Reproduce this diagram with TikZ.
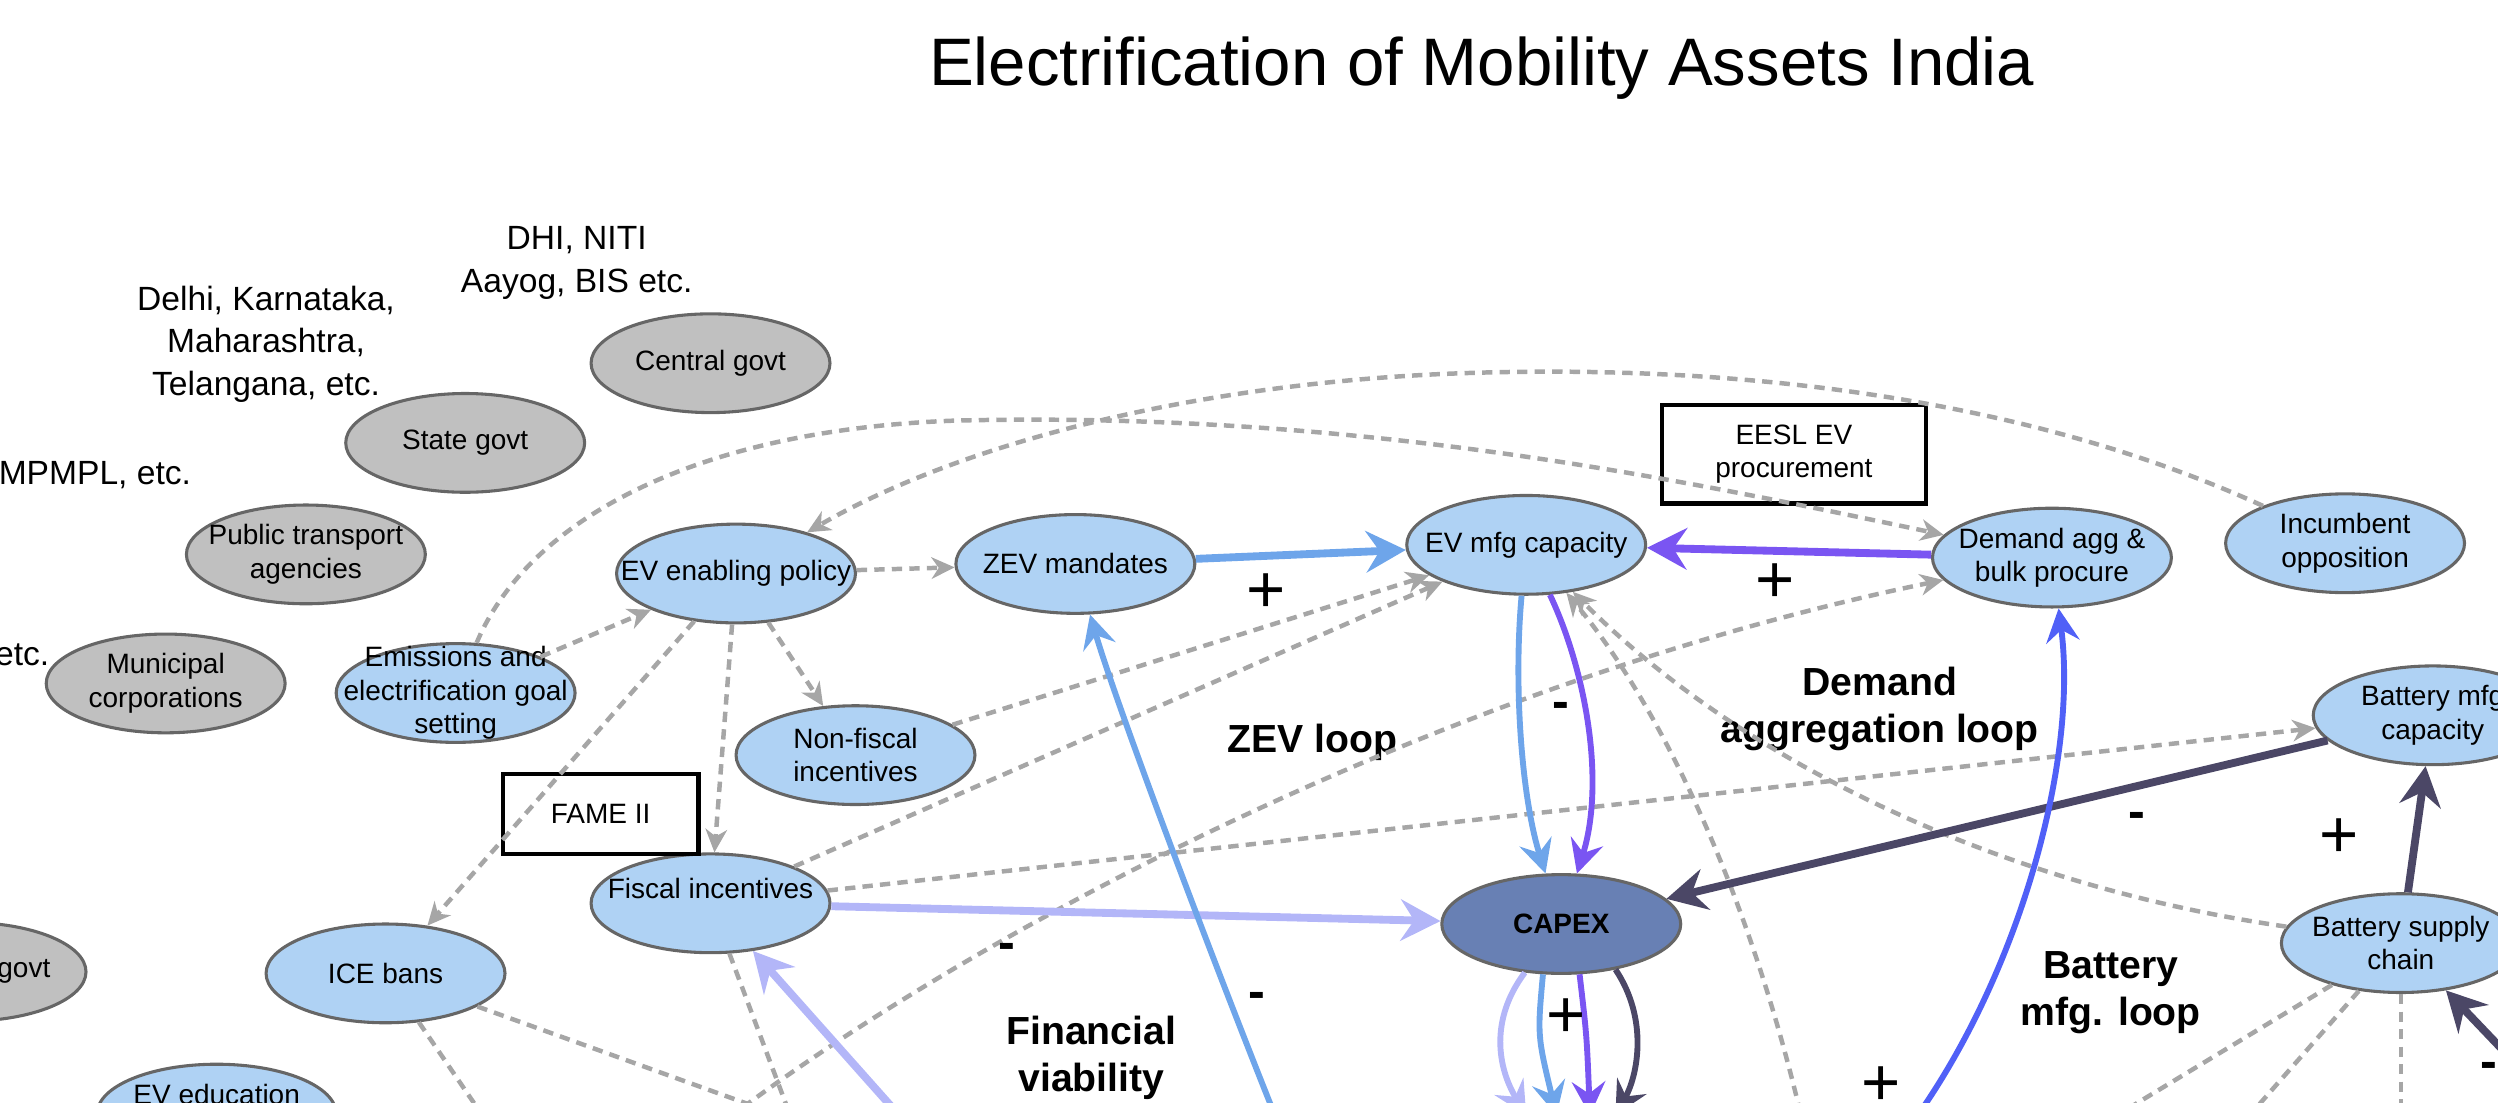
\documentclass[tikz,border=0pt]{standalone}
\usepackage{fontspec}
\setmainfont{Liberation Sans}
\usetikzlibrary{shapes.geometric, arrows.meta}

\definecolor{govgrey}{HTML}{C0C0C0}
\definecolor{factorblue}{HTML}{AFD2F4}
\definecolor{capexblue}{HTML}{6880B4}
\definecolor{edgegrey}{HTML}{666666}
\definecolor{zevblue}{HTML}{6EA5EA}
\definecolor{aggpurple}{HTML}{7A55F2}
\definecolor{batblue}{HTML}{5060F7}
\definecolor{finlav}{HTML}{B3B6F8}
\definecolor{batdark}{HTML}{4B4766}
\definecolor{dashgrey}{HTML}{A6A6A6}

\tikzstyle{actor} = [ellipse, draw=edgegrey, line width=1.1pt, fill=govgrey, minimum width=3cm, minimum height=1.24cm, inner sep=0pt]
\tikzstyle{factor} = [actor, fill=factorblue]
\tikzstyle{hub} = [actor, fill=capexblue]
\tikzstyle{program} = [rectangle, draw=black, line width=1.5pt, inner sep=0pt, font=\fontsize{10}{12}\selectfont, align=center]
\tikzstyle{nodetext} = [font=\fontsize{10}{12}\selectfont, align=center]
\tikzstyle{note} = [font=\fontsize{12}{15.2}\selectfont, align=center]
\tikzstyle{looplabel} = [font=\fontsize{14}{17}\selectfont\bfseries, align=center]
\tikzstyle{signplus} = [font=\fontsize{24}{24}\selectfont]
\tikzstyle{signminus} = [font=\fontsize{18}{18}\selectfont\bfseries]
\tikzstyle{influence} = [draw=dashgrey, line width=1.6pt, dash pattern=on 0.13cm off 0.09cm, -{Stealth[length=0.29cm, width=0.27cm, inset=0.09cm]}]
\tikzstyle{flow} = [line width=2.8pt, -{Stealth[length=0.5cm, width=0.52cm, inset=0.17cm]}]
\tikzstyle{thinflow} = [line width=2.1pt, -{Stealth[length=0.42cm, width=0.42cm, inset=0.15cm]}]

\begin{document}
\begin{tikzpicture}[x=0.02cm, y=-0.02cm]
\useasboundingbox (0,0) rectangle (1568,692);
\clip (0,0) rectangle (1568,692);

\node (title) [font=\fontsize{24}{28}\selectfont] at (930,43) {Electrification of Mobility Assets India};

% actors
\node (central) [actor, label={[nodetext]center:Central govt}] at (446,228) {};
\node (state) [actor, label={[nodetext]center:State govt}] at (292,278) {};
\node (pta) [actor, label={[nodetext]center:Public transport\\agencies}] at (192,348) {};
\node (muni) [actor, label={[nodetext]center:Municipal\\corporations}] at (104,429) {};
\node (localgovt) [actor, label={[nodetext, xshift=0.72cm]center:govt}] at (-21,610) {};

\node (dhi) [note] at (362,165) {DHI, NITI\\Aayog, BIS etc.};
\node (states) [note] at (167,216) {Delhi, Karnataka,\\Maharashtra,\\Telangana, etc.};
\node (mpmpl) [note, anchor=east, inner xsep=1pt] at (122,298) {MPMPL, etc.};
\node (munietc) [note, anchor=east, inner xsep=1pt] at (33,411) {etc.};

% factors
\node (evpolicy) [factor, label={[nodetext]center:EV enabling policy}] at (462,360) {};
\node (emissions) [factor, label={[nodetext]center:Emissions and\\electrification goal\\setting}] at (286,435) {};
\node (zev) [factor, label={[nodetext]center:ZEV mandates}] at (675,354) {};
\node (evmfg) [factor, label={[nodetext]center:EV mfg capacity}] at (958,342) {};
\node (demandagg) [factor, label={[nodetext]center:Demand agg \&\\bulk procure}] at (1288,350) {};
\node (incumbent) [factor, label={[nodetext]center:Incumbent\\opposition}] at (1472,341) {};
\node (batmfg) [factor, label={[nodetext]center:Battery mfg\\capacity}] at (1527,449) {};
\node (batsupply) [factor, label={[nodetext]center:Battery supply\\chain}] at (1507,592) {};
\node (nonfiscal) [factor, label={[nodetext]center:Non-fiscal\\incentives}] at (537,474) {};
\node (fiscal) [factor, label={[nodetext, yshift=0.18cm]center:Fiscal incentives}] at (446,567) {};
\node (icebans) [factor, label={[nodetext]center:ICE bans}] at (242,611) {};
\node (evedu) [factor, label={[nodetext, yshift=0.24cm]center:EV education}] at (136,699) {};
\node (capex) [hub, label={[nodetext, font=\fontsize{10}{12}\selectfont\bfseries]center:CAPEX}] at (980,580) {};

\node (fame) [program, minimum width=2.46cm, minimum height=1cm] at (377,511) {FAME II};
\node (eesl) [program, minimum width=3.32cm, minimum height=1.24cm] at (1126,285) {EESL EV\\procurement};

% loop names
\node (zevloop) [looplabel] at (824,466) {ZEV loop};
\node (aggloop) [looplabel] at (1180,445) {Demand\\aggregation loop};
\node (finloop) [looplabel] at (685,664) {Financial\\viability};
\node (batloop) [looplabel] at (1325,623) {Battery\\mfg. loop};

% off-picture ends
\coordinate (srcdemand) at (440,715);
\coordinate (srcevmfg) at (1135,720);
\coordinate (srczev) at (805,712);
\coordinate (srcdemandagg) at (1195,712);
\coordinate (srcfiscal) at (575,712);
\coordinate (srcbatsupply) at (1610,700);
\coordinate (icedownA) at (330,740);
\coordinate (icedownB) at (600,740);
\coordinate (fiscaldown) at (511,740);
\coordinate (batdownA) at (1263,740);
\coordinate (batdownB) at (1377,740);
\coordinate (batdownC) at (1507,740);
\coordinate (outA) at (958,700);
\coordinate (outB) at (977,700);
\coordinate (outC) at (998,700);
\coordinate (outD) at (1014,700);

% dashed links
\draw [influence] (evpolicy) -- (zev);
\draw [influence] (emissions) -- (evpolicy);
\draw [influence] (evpolicy) -- (nonfiscal);
\draw [influence] (evpolicy) -- (fiscal);
\draw [influence] (evpolicy) -- (icebans);
\draw [influence] (emissions) .. controls (330,330) and (430,270) .. (600,264) .. controls (850,258) and (1050,300) .. (demandagg);
\draw [influence] (incumbent) .. controls (1250,240) and (1050,228) .. (900,235) .. controls (740,243) and (600,280) .. (evpolicy);
\draw [influence] (nonfiscal) -- (evmfg);
\draw [influence] (fiscal) -- (evmfg);
\draw [influence] (fiscal) -- (batmfg);
\draw [influence] (srcdemand) .. controls (600,590) and (900,430) .. (demandagg);
\draw [influence] (batsupply) .. controls (1250,555) and (1090,475) .. (evmfg);
\draw [influence] (srcevmfg) .. controls (1100,560) and (1040,440) .. (evmfg);
\draw [influence] (icebans) -- (icedownA);
\draw [influence] (icebans) -- (icedownB);
\draw [influence] (fiscal) -- (fiscaldown);
\draw [influence] (batsupply) -- (batdownA);
\draw [influence] (batsupply) -- (batdownB);
\draw [influence] (batsupply) -- (batdownC);

% loop links
\draw [flow, zevblue] (zev) -- (evmfg);
\draw [flow, aggpurple] (demandagg) -- (evmfg);
\draw [thinflow, zevblue] (evmfg) .. controls (950,430) and (955,500) .. (capex);
\draw [thinflow, aggpurple] (evmfg) .. controls (995,420) and (1008,490) .. (capex);
\draw [flow, finlav] (fiscal) -- (capex);
\draw [flow, batdark] (batmfg) -- (capex);
\draw [flow, batdark] (batsupply) -- (batmfg);
\draw [flow, batdark] (srcbatsupply) -- (batsupply);
\draw [thinflow, zevblue] (srczev) .. controls (760,600) and (700,440) .. (zev);
\draw [thinflow, batblue] (srcdemandagg) .. controls (1265,620) and (1305,480) .. (demandagg);
\draw [flow, finlav] (srcfiscal) -- (fiscal);
\draw [thinflow, finlav] (capex) .. controls (935,640) and (940,670) .. (outA);
\draw [thinflow, zevblue] (capex.250) .. controls (965,650) .. (outB);
\draw [thinflow, aggpurple] (capex.290) .. controls (996,650) .. (outC);
\draw [thinflow, batdark] (capex.320) .. controls (1035,640) and (1028,675) .. (outD);

% polarities
\node (p1) [signplus] at (795,372) {+};
\node (p2) [signplus] at (1114,366) {+};
\node (p3) [signplus] at (1468,526) {+};
\node (p4) [signplus] at (983,639) {+};
\node (p5) [signplus] at (1181,682) {+};
\node (m1) [signminus] at (980,446) {-};
\node (m2) [signminus] at (1341,515) {-};
\node (m3) [signminus] at (632,597) {-};
\node (m4) [signminus] at (789,628) {-};
\node (m5) [signminus] at (1562,672) {-};

\end{tikzpicture}
\end{document}
